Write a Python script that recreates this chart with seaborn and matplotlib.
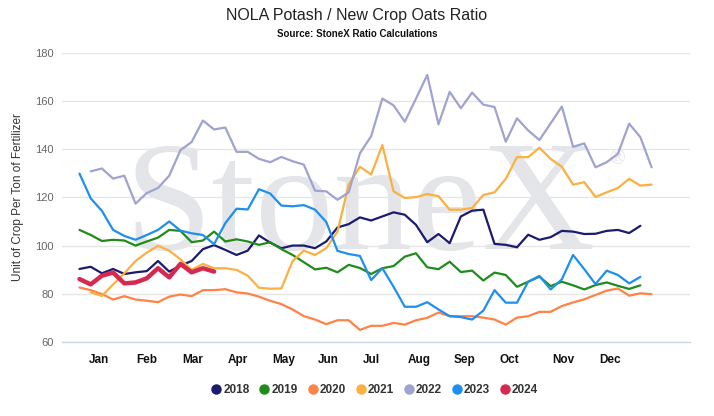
import numpy as np
import pandas as pd
import matplotlib
matplotlib.use('Agg')
import matplotlib.pyplot as plt
from matplotlib.lines import Line2D
import seaborn as sns

nan = np.nan

# weekly ratio values, week index 0..51
y2018 = [90.3, 91.2, 88.5, 90.3, 88.2, 88.9, 89.4, 93.6, 89.2, 91.7, 93.6, 98.5, 100.2,
         98.2, 96.1, 97.9, 104.2, 101.2, 98.9, 100, 100, 98.9, 101.7, 107.5, 108.9, 111.7,
         110.4, 112.1, 113.8, 112.8, 108.6, 101.4, 104.8, 101, 112.1, 114.5, 114.9, 100.7,
         100.3, 99.3, 104.5, 102.4, 103.5, 106.1, 105.8, 104.8, 104.9, 106.1, 106.5, 105.2,
         108.2, nan]
y2019 = [106.5, 104.4, 101.9, 102.4, 102.1, 100, 101.7, 103.3, 106.5, 106.1, 101.4, 102.1,
         105.8, 101.7, 102.6, 101.7, 100.3, 101.4, 98.5, 96.1, 93.1, 90.1, 90.8, 88.9, 92,
         90.7, 88.2, 90.6, 91.5, 95.4, 96.8, 91, 90.2, 93.3, 89, 89.6, 85.5, 88.8, 87.8, 82.9,
         85, 87.1, 83.2, 85, 83.5, 81.8, 83.6, 84.7, 83.3, 82, 83.5, nan]
y2020 = [82.6, 81.5, 79.9, 77.6, 79, 77.6, 77.1, 76.5, 78.8, 79.7, 79, 81.5, 81.5, 81.9,
         80.6, 80.1, 78.8, 77.1, 75.7, 73.5, 70.7, 69.3, 67.4, 69, 69, 65, 66.7, 66.7, 67.9,
         67.2, 69, 70, 72.2, 70.7, 70.7, 70.7, 70.1, 69.3, 67.2, 70.1, 70.7, 72.5, 72.5, 74.9,
         76.4, 77.7, 79.5, 81.3, 82.2, 79.2, 80.2, 79.8]
y2021 = [nan, 80.6, 79.1, 83.9, 88.5, 93.6, 97.1, 99.9, 97.9, 94.3, 89.9, 92.4, 90.6, 90.6,
         89.9, 87.5, 82.5, 82.1, 82.2, 93.6, 97.9, 96.1, 98.9, 105.8, 125.3, 132.7, 129.5,
         141.7, 122.5, 119.8, 120.1, 121.4, 120.5, 114.9, 114.9, 115.6, 121, 122.1, 127.7,
         136.7, 136.7, 140.6, 136, 132.7, 125.3, 126.3, 120.2, 122.1, 123.9, 127.7, 124.9, 125.3]
y2022 = [nan, 130.8, 132, 127.8, 129, 117.4, 121.8, 123.9, 129, 139.6, 143, 151.9, 148.2,
         149, 138.9, 138.9, 136, 134.6, 136.8, 135, 133.6, 122.8, 122.5, 119, 122.1, 138.3,
         145.4, 161, 158.2, 151.4, 161, 170.8, 150.3, 163.8, 157, 163.5, 158.5, 157.5, 143.1,
         152.8, 147.8, 143.8, 150.7, 157.7, 141, 142.4, 132.5, 134.6, 138.1, 150.6, 145, 132.5]
y2023 = [129.9, 119.6, 114.4, 106.5, 104, 102.4, 104.4, 106.5, 110, 106.2, 105.1, 104.4,
         100.6, 109.3, 115.3, 115, 123.4, 121.6, 116.6, 116.3, 116.8, 114.9, 109.8, 97.8, 96.5,
         95.7, 85.7, 90.6, 82.9, 74.6, 74.6, 76.5, 73.5, 70.7, 70.3, 69.3, 73, 81.5, 76.3, 76.3,
         85, 87.4, 81.8, 86, 96.1, 90.2, 84, 89.6, 87.8, 84.3, 87, nan]
y2024 = [86.1, 83.9, 87.5, 88.8, 84.3, 84.7, 86.4, 90.6, 86.8, 92.4, 88.9, 90.6, 89.2]

years = ['2018', '2019', '2020', '2021', '2022', '2023', '2024']
colors = ['#1b1b6f', '#1f8c1a', '#ff8247', '#fbb040', '#9fa3cf', '#1e8ff0', '#d42a4f']
months = ['Jan', 'Feb', 'Mar', 'Apr', 'May', 'Jun', 'Jul', 'Aug', 'Sep', 'Oct', 'Nov', 'Dec']
month_pos = [1.7, 6, 10.1, 14.1, 18.2, 22.2, 26, 30.3, 34.3, 38.3, 43.1, 47.3]

series = [y2018, y2019, y2020, y2021, y2022, y2023, y2024]
rows = []
for yr, vals in zip(years, series):
    for wk, v in enumerate(vals):
        rows.append({'week': wk, 'ratio': v, 'year': yr})
df = pd.DataFrame(rows).dropna()

sns.set_theme(style='white')
plt.rcParams['font.family'] = ['Liberation Sans', 'DejaVu Sans']

fig = plt.figure(figsize=(7.14, 4.16), dpi=100)
ax = fig.add_axes([0.0868, 0.178, 0.8792, 0.695])

# watermark
ax.text(0.100, 0.322, 'StoneX', transform=ax.transAxes, fontsize=113,
        family='Liberation Serif', color='#e4e5e9', ha='left', va='baseline', zorder=0.1)
ax.text(0.884, 0.63, '\u00ae', transform=ax.transAxes, fontsize=15,
        family='Liberation Serif', color='#e4e5e9', ha='center', va='center', zorder=0.1)

palette = dict(zip(years, colors))
sizes = {y: 1.6 for y in years}
sizes['2024'] = 3.2
sns.lineplot(data=df, x='week', y='ratio', hue='year', size='year', sizes=sizes,
             palette=palette, estimator=None, sort=True, legend=False, ax=ax, zorder=3)

ax.set_xlim(-1.56, 54.4)
ax.set_ylim(60, 180)
ax.set_yticks(range(60, 181, 20))
ax.set_xticks(month_pos)
ax.set_xticklabels(months, fontweight='bold', fontsize=8.5, color='#111111')
ax.tick_params(axis='x', length=0, pad=9)
ax.tick_params(axis='y', length=0, pad=6, labelsize=8, labelcolor='#666666')
ax.grid(axis='y', color='#e6e6e6', linewidth=1)
ax.grid(axis='x', visible=False)
ax.set_axisbelow(True)
for s in ['top', 'right', 'left']:
    ax.spines[s].set_visible(False)
ax.spines['bottom'].set_color('#ccd6eb')
ax.spines['bottom'].set_linewidth(1)
ax.set_xlabel('')
ax.set_ylabel('Unit of Crop Per Ton of Fertilizer', fontsize=8.5, color='#333333', labelpad=8)

fig.text(0.5, 0.962, 'NOLA Potash / New Crop Oats Ratio', ha='center', va='center',
         fontsize=11.5, color='#222222')
fig.text(0.5, 0.918, 'Source: StoneX Ratio Calculations', ha='center', va='center',
         fontsize=7, fontweight='bold', color='#111111')

handles = [Line2D([0], [0], marker='o', color='none', markerfacecolor=c, markeredgecolor=c,
                  markersize=6.5) for c in colors]
leg = fig.legend(handles, years, loc='center', bbox_to_anchor=(0.524, 0.0625), ncol=7,
                 frameon=False, handletextpad=0.1, columnspacing=0.75, handlelength=1.0,
                 prop={'weight': 'bold', 'size': 8.5})
for t in leg.get_texts():
    t.set_color('#333333')

fig.savefig('out.png', dpi=100)
